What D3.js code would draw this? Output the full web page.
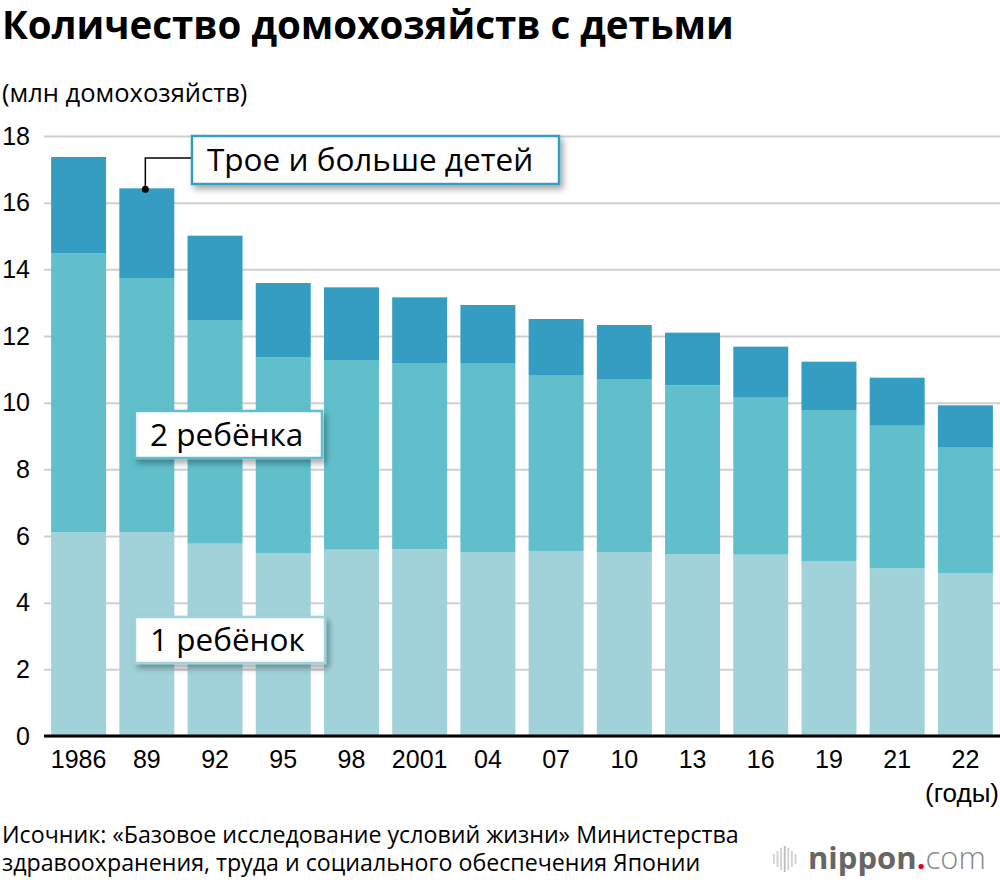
<!DOCTYPE html>
<html>
<head>
<meta charset="utf-8">
<script src="https://cdn.jsdelivr.net/npm/d3@7"></script>
<style>
  html, body { margin: 0; padding: 0; background: #fff; }
  svg { display: block; }
  text { font-family: "Open Sans", "Noto Sans", sans-serif; fill: #000; }
  .num { font-family: "Liberation Sans", Arial, sans-serif; }
</style>
</head>
<body>
<div id="chart"></div>
<script>
  // data (million households)
  var years = ["1986", "89", "92", "95", "98", "2001", "04", "07", "10", "13", "16", "19", "21", "22"];
  var oneChild = [6.11, 6.12, 5.77, 5.49, 5.59, 5.60, 5.52, 5.55, 5.52, 5.46, 5.44, 5.25, 5.03, 4.89];
  var twoChildren = [8.38, 7.62, 6.71, 5.88, 5.69, 5.59, 5.67, 5.28, 5.19, 5.06, 4.71, 4.53, 4.28, 3.78];
  var threePlus = [2.88, 2.69, 2.53, 2.22, 2.18, 1.97, 1.74, 1.68, 1.62, 1.58, 1.53, 1.45, 1.44, 1.25];
  var yTicks = [0, 2, 4, 6, 8, 10, 12, 14, 16, 18];

  var width = 1000, height = 884;
  var colors = { one: "#a1d2da", two: "#60bfcb", three: "#359dc2" };

  var rows = years.map(function (y, i) {
    return { year: y, one: oneChild[i], two: twoChildren[i], three: threePlus[i] };
  });

  var svg = d3.select("#chart").append("svg")
      .attr("width", width)
      .attr("height", height);

  var defs = svg.append("defs");
  defs.append("filter")
      .attr("id", "shadow")
      .attr("x", "-10%").attr("y", "-30%").attr("width", "130%").attr("height", "170%")
    .append("feDropShadow")
      .attr("dx", 3).attr("dy", 4).attr("stdDeviation", 3)
      .attr("flood-color", "#000").attr("flood-opacity", 0.35);

  var x = d3.scaleBand()
      .domain(years)
      .range([44.5, 999.5])
      .paddingInner(0.194)
      .paddingOuter(0.097);

  var y = d3.scaleLinear()
      .domain([0, 18])
      .range([736, 136]);

  /* ---------------- title ---------------- */
  svg.append("text")
      .attr("x", 2).attr("y", 39)
      .style("font-size", "38.5px").style("font-weight", "bold")
      .text("Количество домохозяйств с детьми");

  svg.append("text")
      .attr("x", 2).attr("y", 102)
      .style("font-size", "25.5px")
      .text("(млн домохозяйств)");

  /* ---------------- grid + y axis ---------------- */
  var yAxis = svg.append("g")
      .attr("transform", "translate(44,0)")
      .call(d3.axisLeft(y).tickValues(yTicks).tickSize(-956).tickPadding(14));
  yAxis.select(".domain").remove();
  yAxis.selectAll(".tick line").attr("stroke", "#cfcfcf").attr("stroke-width", 2);
  yAxis.selectAll(".tick text")
      .attr("class", "num")
      .style("font-size", "25px")
      .attr("fill", "#000");

  /* ---------------- bars ---------------- */
  var stack = d3.stack().keys(["one", "two", "three"]);
  var series = stack(rows);

  svg.append("g").selectAll("g")
    .data(series)
    .join("g")
      .attr("fill", function (d) { return colors[d.key]; })
    .selectAll("rect")
    .data(function (d) { return d; })
    .join("rect")
      .attr("x", function (d) { return x(d.data.year); })
      .attr("y", function (d) { return y(d[1]); })
      .attr("width", x.bandwidth())
      .attr("height", function (d) { return y(d[0]) - y(d[1]); });

  // baseline
  svg.append("line")
      .attr("x1", 44).attr("x2", 1000)
      .attr("y1", y(0)).attr("y2", y(0))
      .attr("stroke", "#000").attr("stroke-width", 3);

  /* ---------------- x axis ---------------- */
  var xAxis = svg.append("g")
      .attr("transform", "translate(0," + y(0) + ")")
      .call(d3.axisBottom(x).tickSize(0).tickPadding(14));
  xAxis.select(".domain").remove();
  xAxis.selectAll(".tick text")
      .attr("class", "num")
      .style("font-size", "25px")
      .attr("fill", "#000");

  svg.append("text")
      .attr("class", "num")
      .attr("x", 999).attr("y", 802)
      .attr("text-anchor", "end")
      .style("font-size", "26px")
      .text("(годы)");

  /* ---------------- series labels ---------------- */
  function labelBox(x0, y0, w, h, txt, border) {
    var g = svg.append("g");
    g.append("rect")
        .attr("x", x0).attr("y", y0).attr("width", w).attr("height", h)
        .attr("fill", "#fff")
        .attr("stroke", border).attr("stroke-width", 2.5)
        .attr("filter", "url(#shadow)");
    g.append("text")
        .attr("x", x0 + 15).attr("y", y0 + h / 2 + 11)
        .style("font-size", "31.5px")
        .text(txt);
  }

  // leader line to the 1989 top segment
  var cx = x("89") + 26;
  var cy = y(oneChild[1] + twoChildren[1] + threePlus[1]) + 1;
  svg.append("path")
      .attr("d", "M192,158H" + cx + "V" + cy)
      .attr("fill", "none").attr("stroke", "#000").attr("stroke-width", 1.5);
  svg.append("circle")
      .attr("cx", cx).attr("cy", cy)
      .attr("r", 3.5).attr("fill", "#000");

  labelBox(192, 136, 367, 48, "Трое и больше детей", colors.three);
  labelBox(135, 411, 187, 47, "2 ребёнка", colors.two);
  labelBox(135, 617, 190, 46, "1 ребёнок", colors.one);

  /* ---------------- source + logo ---------------- */
  svg.append("text")
      .attr("x", 2).attr("y", 843)
      .style("font-size", "23.2px")
      .text("Исочник: «Базовое исследование условий жизни» Министерства");
  svg.append("text")
      .attr("x", 2).attr("y", 871)
      .style("font-size", "23.2px")
      .text("здравоохранения, труда и социального обеспечения Японии");

  var logo = svg.append("g").attr("transform", "translate(773,846)");
  [10, 16, 22, 26, 22, 16, 10].forEach(function (h, i) {
    logo.append("rect")
        .attr("x", i * 3.6).attr("y", 13 - h / 2)
        .attr("width", 1.8).attr("height", h)
        .attr("fill", i === 3 ? "#bbb" : "#d0d0d0");
  });
  var lt = logo.append("text")
      .attr("x", 35).attr("y", 23)
      .style("font-size", "31px");
  lt.append("tspan").style("font-weight", "bold").attr("fill", "#666").text("nippon");
  lt.append("tspan").style("font-weight", "bold").attr("fill", "#e60012").text(".");
  lt.append("tspan").style("font-weight", "300").attr("fill", "#888").text("com");
</script>
</body>
</html>
